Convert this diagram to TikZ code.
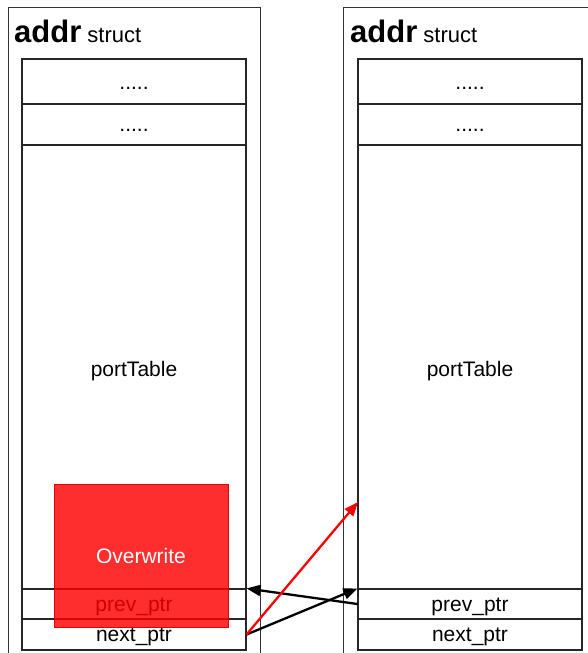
\documentclass[tikz,border=0pt]{standalone}
\usepackage{fontspec}
\setmainfont{Liberation Sans}
\usetikzlibrary{arrows.meta}
\begin{document}
\begin{tikzpicture}[x=1pt,y=-1pt,
  outerbox/.style={draw=black!80,line width=0.9pt},
  cell/.style={draw=black!85,line width=1.1pt,minimum width=224pt,inner sep=0pt,
    font=\fontsize{21}{24}\selectfont,text height=15pt,text depth=0pt},
  title/.style={anchor=base west,inner sep=0pt},
  overwrite/.style={draw=red!90!black,line width=0.6pt,fill=red,fill opacity=0.82,
    text opacity=1,text=white,minimum width=174pt,minimum height=143pt,inner sep=0pt,
    font=\fontsize{21}{24}\selectfont,text height=15.6pt,text depth=0pt},
  ptr/.style={line width=2.3pt,-{Triangle[length=14pt,width=11pt]}}]
\useasboundingbox (0,0) rectangle (588,653);

% enclosing struct frames (clipped at the page edge)
\begin{scope}
  \clip (0,0) rectangle (588,653);
  \draw[outerbox] (8,7) rectangle (260,670);
  \draw[outerbox] (343,7) rectangle (620,670);
\end{scope}

% titles
\node[title] (ltitle) at (14,42) {\fontsize{31}{32}\selectfont\bfseries addr\mdseries\fontsize{22}{24}\selectfont\ struct};
\node[title] (rtitle) at (350,42) {\fontsize{31}{32}\selectfont\bfseries addr\mdseries\fontsize{22}{24}\selectfont\ struct};

% left struct fields
\node[cell,minimum height=45pt,text height=16pt]  (l1) at (134,81.5)  {.....};
\node[cell,minimum height=41pt,text height=14pt]  (l2) at (134,124.5) {.....};
\node[cell,minimum height=444pt,text height=19.5pt] (l3) at (134,367) {portTable};
\node[cell,minimum height=30pt]  (l4) at (134,604)   {prev\_ptr};
\node[cell,minimum height=31pt,text height=14pt]  (l5) at (134,634.5) {next\_ptr};

% right struct fields
\node[cell,minimum height=45pt,text height=16pt]  (r1) at (470,81.5)  {.....};
\node[cell,minimum height=41pt,text height=14pt]  (r2) at (470,124.5) {.....};
\node[cell,minimum height=444pt,text height=19.5pt] (r3) at (470,367) {portTable};
\node[cell,minimum height=30pt]  (r4) at (470,604)   {prev\_ptr};
\node[cell,minimum height=31pt,text height=14pt]  (r5) at (470,634.5) {next\_ptr};

% overflowing region
\node[overwrite] (ow) at (141,555.5) {Overwrite};

% list pointers
\coordinate (hit) at (358,502);
\draw[ptr] (r4.west) -- (l4.north east);
\draw[ptr] (l5.east) -- (r4.north west);
\draw[ptr,red] (l5.east) -- (hit);
\end{tikzpicture}
\end{document}
